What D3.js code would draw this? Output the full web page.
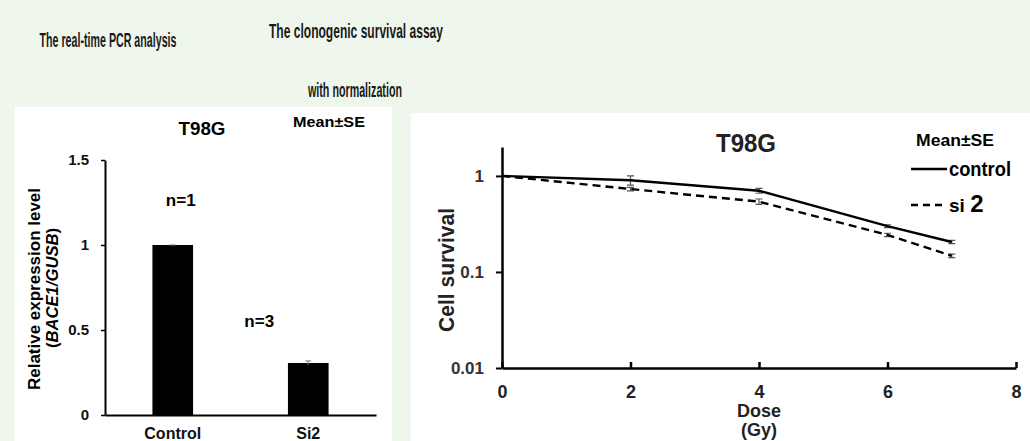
<!DOCTYPE html>
<html>
<head>
<meta charset="utf-8">
<script src="https://cdn.jsdelivr.net/npm/d3@7"></script>
<style>
  body { margin: 0; background: #eff7ec; }
  svg { display: block; font-family: "Liberation Sans", Arial, sans-serif; font-weight: bold; }
</style>
</head>
<body>
<svg id="fig" width="1030" height="441"></svg>
<script>
// ---- data: real-time PCR (left)
const pcrGroups = ["Control", "Si2"];
const pcrMean = [1.0, 0.306];
const pcrSE = [0.0, 0.012];
const pcrN = ["n=1", "n=3"];
const pcrTicks = [0, 0.5, 1, 1.5];

// ---- data: clonogenic survival (right)
const doses = [0, 2, 4, 6, 7];
const controlMean = [1.0, 0.90, 0.70, 0.30, 0.205];
const controlSE = [0.0, 0.10, 0.04, 0.010, 0.008];
const si2Mean = [1.0, 0.73, 0.54, 0.243, 0.147];
const si2SE = [0.0, 0.03, 0.035, 0.010, 0.006];
const doseTicks = [0, 2, 4, 6, 8];
const survivalTicks = [0.01, 0.1, 1];

const svg = d3.select("#fig");

// background panels
svg.append("rect").attr("x", 15).attr("y", 107).attr("width", 377).attr("height", 334).attr("fill", "#fff");
svg.append("rect").attr("x", 411).attr("y", 113).attr("width", 619).attr("height", 328).attr("fill", "#fff");

// page titles
function title(txt, x, y, size, len) {
  svg.append("text")
    .attr("x", x).attr("y", y)
    .attr("text-anchor", "middle")
    .attr("font-size", size)
    .attr("textLength", len)
    .attr("lengthAdjust", "spacingAndGlyphs")
    .attr("fill", "#1a1a1a")
    .text(txt);
}
title("The real-time PCR analysis", 108, 47, 20, 137);
title("The clonogenic survival assay", 356, 38, 21, 174);
title("with normalization", 355, 97, 20, 94);

// ================= left: bar chart =================
const xb = d3.scaleBand().domain(pcrGroups).range([105, 376]).paddingInner(0.7).paddingOuter(0.35);
const yb = d3.scaleLinear().domain([0, 1.5]).range([415, 160]);

const gL = svg.append("g");

gL.append("g")
  .attr("transform", "translate(0,415)")
  .call(d3.axisBottom(xb).tickSize(0).tickSizeOuter(0).tickPadding(13))
  .attr("font-family", null)
  .call(g => g.select(".domain").attr("stroke-width", 2))
  .call(g => g.selectAll("text").attr("font-size", 16).attr("fill", "#111"));

gL.append("g")
  .attr("transform", "translate(105,0)")
  .call(d3.axisLeft(yb).tickValues(pcrTicks).tickFormat(d3.format("")).tickSize(4).tickSizeOuter(0).tickPadding(12))
  .attr("font-family", null)
  .call(g => g.select(".domain").attr("stroke-width", 2))
  .call(g => g.selectAll("line").attr("stroke-width", 1.5))
  .call(g => g.selectAll("text").attr("font-size", 15).attr("fill", "#111"));

gL.selectAll(".bar")
  .data(pcrGroups)
  .enter().append("rect")
  .attr("x", d => xb(d))
  .attr("y", (d, i) => yb(pcrMean[i]))
  .attr("width", xb.bandwidth())
  .attr("height", (d, i) => 415 - yb(pcrMean[i]))
  .attr("fill", "#000");

// error bars
pcrGroups.forEach((d, i) => {
  const cx = xb(d) + xb.bandwidth() / 2;
  const y0 = yb(pcrMean[i] - pcrSE[i]), y1 = yb(pcrMean[i] + pcrSE[i]);
  gL.append("path")
    .attr("d", `M${cx},${y0}V${y1}M${cx - 3},${y1}H${cx + 3}`)
    .attr("stroke", "#777").attr("stroke-width", 1).attr("fill", "none");
});

// n labels
gL.append("text").attr("x", xb("Control") + xb.bandwidth() / 2 + 8).attr("y", 206)
  .attr("text-anchor", "middle").attr("font-size", 17).text(pcrN[0]);
gL.append("text").attr("x", xb("Si2") + xb.bandwidth() / 2 - 49).attr("y", 327)
  .attr("text-anchor", "middle").attr("font-size", 17).text(pcrN[1]);

gL.append("text").attr("x", 202).attr("y", 135).attr("text-anchor", "middle")
  .attr("font-size", 19).attr("textLength", 47).attr("lengthAdjust", "spacingAndGlyphs").text("T98G");
gL.append("text").attr("x", 293).attr("y", 127)
  .attr("font-size", 15).attr("textLength", 72).attr("lengthAdjust", "spacingAndGlyphs").text("Mean±SE");

// y label (two lines)
gL.append("text")
  .attr("transform", "translate(40,289) rotate(-90)")
  .attr("text-anchor", "middle").attr("font-size", 16)
  .attr("textLength", 202).attr("lengthAdjust", "spacingAndGlyphs")
  .text("Relative expression level");
const yl2 = gL.append("text")
  .attr("transform", "translate(58,288) rotate(-90)")
  .attr("text-anchor", "middle").attr("font-size", 16)
  .attr("textLength", 120).attr("lengthAdjust", "spacingAndGlyphs");
yl2.append("tspan").text("(");
yl2.append("tspan").attr("font-style", "italic").text("BACE1/GUSB");
yl2.append("tspan").text(")");

// ================= right: survival curve =================
const xs = d3.scaleLinear().domain([0, 8]).range([502, 1016]);
const ys = d3.scaleLog().domain([0.01, 2]).range([368, 147]);

const gR = svg.append("g");

gR.append("g")
  .attr("transform", "translate(0,368)")
  .call(d3.axisBottom(xs).tickValues(doseTicks).tickFormat(d3.format("d")).tickSizeInner(-6).tickSizeOuter(0).tickPadding(17))
  .attr("font-family", null)
  .call(g => g.select(".domain").attr("stroke-width", 2.5))
  .call(g => g.selectAll("line").attr("stroke-width", 2.5))
  .call(g => g.selectAll("text").attr("font-size", 18).attr("fill", "#222"));

gR.append("g")
  .attr("transform", "translate(502,0)")
  .call(d3.axisLeft(ys).tickValues(survivalTicks).tickFormat(d => String(d)).tickSize(6).tickSizeOuter(0).tickPadding(12))
  .attr("font-family", null)
  .call(g => g.select(".domain").attr("stroke-width", 2.5))
  .call(g => g.selectAll("line").attr("stroke-width", 2))
  .call(g => g.selectAll("text").attr("font-size", 17).attr("fill", "#333"));

const line = d3.line().x(d => xs(d[0])).y(d => ys(d[1]));

function errBars(means, ses) {
  doses.forEach((d, i) => {
    if (!ses[i]) return;
    const cx = xs(d);
    const y0 = ys(means[i] - ses[i]), y1 = ys(means[i] + ses[i]);
    gR.append("path")
      .attr("d", `M${cx},${y0}V${y1}M${cx - 3.5},${y1}H${cx + 3.5}M${cx - 3.5},${y0}H${cx + 3.5}`)
      .attr("stroke", "#555").attr("stroke-width", 1.2).attr("fill", "none");
  });
}
errBars(controlMean, controlSE);
errBars(si2Mean, si2SE);

gR.append("path")
  .attr("d", line(doses.map((d, i) => [d, si2Mean[i]])))
  .attr("fill", "none").attr("stroke", "#000").attr("stroke-width", 2.4).attr("stroke-dasharray", "8,5");
gR.append("path")
  .attr("d", line(doses.map((d, i) => [d, controlMean[i]])))
  .attr("fill", "none").attr("stroke", "#000").attr("stroke-width", 2.4);

// labels
gR.append("text").attr("x", 746).attr("y", 152).attr("text-anchor", "middle")
  .attr("font-size", 25).attr("textLength", 60).attr("lengthAdjust", "spacingAndGlyphs").attr("fill", "#222").text("T98G");
gR.append("text").attr("transform", "translate(454,270) rotate(-90)")
  .attr("text-anchor", "middle").attr("font-size", 22)
  .attr("textLength", 124).attr("lengthAdjust", "spacingAndGlyphs").attr("fill", "#222").text("Cell survival");
gR.append("text").attr("x", xs(4)).attr("y", 417).attr("text-anchor", "middle")
  .attr("font-size", 18).attr("fill", "#222").text("Dose");
gR.append("text").attr("x", xs(4)).attr("y", 436).attr("text-anchor", "middle")
  .attr("font-size", 18).attr("fill", "#222").text("(Gy)");

// legend
gR.append("text").attr("x", 916).attr("y", 146)
  .attr("font-size", 16).attr("textLength", 78).attr("lengthAdjust", "spacingAndGlyphs").text("Mean±SE");
gR.append("line").attr("x1", 911).attr("x2", 947).attr("y1", 169).attr("y2", 169)
  .attr("stroke", "#000").attr("stroke-width", 2.4);
gR.append("text").attr("x", 949).attr("y", 176).attr("font-size", 20)
  .attr("textLength", 62).attr("lengthAdjust", "spacingAndGlyphs").text("control");
gR.append("line").attr("x1", 911).attr("x2", 947).attr("y1", 205).attr("y2", 205)
  .attr("stroke", "#000").attr("stroke-width", 2.4).attr("stroke-dasharray", "7,5");
const lg2 = gR.append("text").attr("x", 949).attr("y", 212);
lg2.append("tspan").attr("font-size", 19).text("si ");
lg2.append("tspan").attr("font-size", 24).text("2");
</script>
</body>
</html>
